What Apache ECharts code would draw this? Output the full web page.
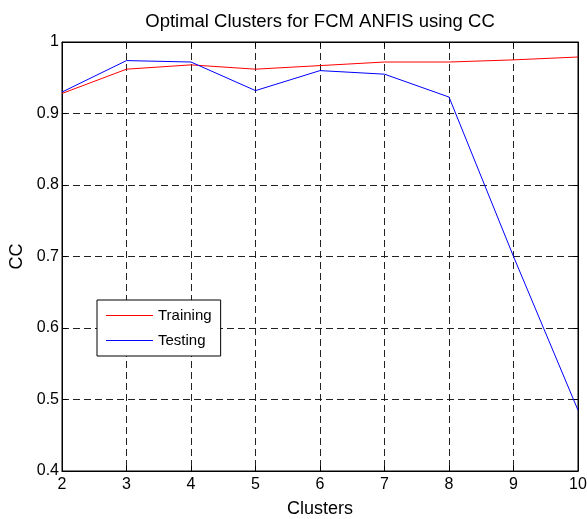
<!DOCTYPE html>
<html>
<head>
<meta charset="utf-8">
<script src="https://cdn.jsdelivr.net/npm/echarts@6/dist/echarts.min.js"></script>
<style>html,body{margin:0;padding:0;background:#fff;}#c{width:587px;height:519px;}</style>
</head>
<body>
<div id="c"></div>
<script>
var clusters = [2, 3, 4, 5, 6, 7, 8, 9, 10];
var training = [0.928, 0.962, 0.968, 0.962, 0.967, 0.972, 0.972, 0.975, 0.979];
var testing = [0.930, 0.974, 0.972, 0.932, 0.960, 0.955, 0.923, 0.700, 0.485];
var yTicks = [0.4, 0.5, 0.6, 0.7, 0.8, 0.9, 1];

function pairs(xs, ys) { return xs.map(function (x, i) { return [x, ys[i]]; }); }

var font = 'Liberation Sans, Arial, sans-serif';
var chart = echarts.init(document.getElementById('c'), null, { renderer: 'canvas' });
var splitStyle = { show: true, lineStyle: { color: '#222', width: 1, type: [7, 4] } };
chart.setOption({
  animation: false,
  backgroundColor: '#fff',
  title: {
    text: 'Optimal Clusters for FCM ANFIS using CC',
    left: 320, top: 12, padding: 0, textAlign: 'center',
    textStyle: { fontFamily: font, fontSize: 18.5, fontWeight: 'normal', color: '#000' }
  },
  grid: { left: 62, right: 9, top: 42, bottom: 48, outerBoundsMode: 'none', containLabel: false, show: true, borderColor: '#000', borderWidth: 1, backgroundColor: 'transparent' },
  legend: {
    orient: 'vertical', left: 97, top: 300,
    padding: [8, 9, 8, 9],
    itemGap: 10,
    icon: 'rect',
    itemWidth: 47, itemHeight: 1.2,
    borderColor: '#000', borderWidth: 1, backgroundColor: '#fff',
    textStyle: { fontFamily: font, fontSize: 15, color: '#000' },
    data: ['Training', 'Testing']
  },
  xAxis: [{
    type: 'value', min: 2, max: 10, interval: 1,
    name: 'Clusters', nameLocation: 'middle', nameGap: 29,
    nameTextStyle: { fontFamily: font, fontSize: 18, color: '#000' },
    axisLine: { lineStyle: { color: '#000', width: 1 } },
    axisTick: { inside: true, length: 5, lineStyle: { color: '#000' } },
    axisLabel: { fontFamily: font, fontSize: 16, color: '#000', margin: 6 },
    splitLine: splitStyle
  }, {
    type: 'value', min: 2, max: 10, interval: 1, position: 'top',
    axisLine: { lineStyle: { color: '#000' } },
    axisTick: { inside: true, length: 5, lineStyle: { color: '#000' } },
    axisLabel: { show: false }, splitLine: { show: false }
  }],
  yAxis: [{
    type: 'value', min: 0.4, max: 1, interval: 0.1,
    name: 'CC', nameLocation: 'middle', nameGap: 34, nameRotate: 90,
    nameTextStyle: { fontFamily: font, fontSize: 18, color: '#000' },
    axisLine: { show: true, lineStyle: { color: '#000', width: 1 } },
    axisTick: { show: true, inside: true, length: 5, lineStyle: { color: '#000' } },
    axisLabel: {
      fontFamily: font, fontSize: 16, color: '#000', margin: 3,
      formatter: function (v) {
        var best = yTicks.reduce(function (a, b) { return Math.abs(b - v) < Math.abs(a - v) ? b : a; });
        return String(best);
      }
    },
    splitLine: splitStyle
  }, {
    type: 'value', min: 0.4, max: 1, interval: 0.1, position: 'right',
    axisLine: { show: true, lineStyle: { color: '#000' } },
    axisTick: { show: true, inside: true, length: 5, lineStyle: { color: '#000' } },
    axisLabel: { show: false }, splitLine: { show: false }
  }],
  series: [{
    name: 'Training', type: 'line', symbol: 'none', data: pairs(clusters, training),
    lineStyle: { color: '#ff0000', width: 1 }, itemStyle: { color: '#ff0000' }
  }, {
    name: 'Testing', type: 'line', symbol: 'none', data: pairs(clusters, testing),
    lineStyle: { color: '#0000ff', width: 1 }, itemStyle: { color: '#0000ff' }
  }]
});
</script>
</body>
</html>
